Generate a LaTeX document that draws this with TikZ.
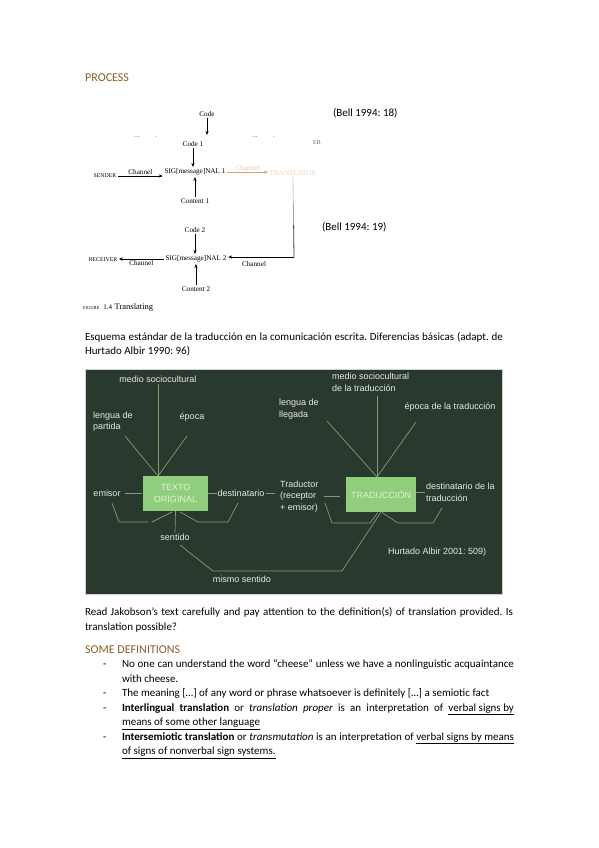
\documentclass[tikz,border=0pt]{standalone}
\usepackage{fontspec}
\setmainfont{Carlito}
\newfontfamily\arialf{Liberation Sans}
\newfontfamily\timesf{Liberation Serif}
\usetikzlibrary{arrows.meta,calc}
\definecolor{headbrown}{RGB}{140,92,42}
\definecolor{panelbg}{RGB}{42,57,46}
\definecolor{panelline}{RGB}{128,158,112}
\definecolor{boxfill}{RGB}{144,205,124}
\definecolor{boxtext}{RGB}{226,244,214}
\definecolor{paneltext}{RGB}{230,232,228}
\definecolor{fadeor}{RGB}{214,160,110}
\frenchspacing
\begin{document}
\begin{tikzpicture}[x=1pt,y=-1pt,
  body/.style={font=\fontsize{11}{14.5}\selectfont, anchor=base west, inner sep=0pt, outer sep=0pt},
  head/.style={font=\fontsize{12}{14}\selectfont, text=headbrown, anchor=base west, inner sep=0pt},
  bell/.style={font=\timesf\fontsize{7.2}{8}\selectfont, inner sep=1.5pt},
  bellsc/.style={font=\timesf\fontsize{5.8}{7}\selectfont, inner sep=1.5pt},
  barr/.style={-{Stealth[length=4pt,width=3.2pt]}, line width=0.8pt},
  ptxt/.style={font=\arialf\fontsize{9}{11.5}\selectfont, text=paneltext, inner sep=1pt, align=left},
  pline/.style={draw=panelline, line width=0.7pt},
  pbox/.style={fill=boxfill, font=\arialf\fontsize{9}{11.5}\selectfont, text=boxtext, align=center, inner sep=0pt},
]
\useasboundingbox (0,0) rectangle (599,848);
\fill[white] (0,0) rectangle (599,848);

% ---------- PROCESS ----------
\node[head] (process) at (85,82) {PROCESS};

% Bell diagram
\node[bell] (codeT) at (207,114) {Code};
\coordinate (codeTend) at (207,135);
\draw[barr] (codeT.south) -- (codeTend);
\begin{scope}
  \clip (120,128) rectangle (300,136.5);
  \node[bell,text=gray] (chA) at (145,139) {Channel};
  \node[bell,text=gray] (chB) at (263,139) {Channel};
\end{scope}
\node[bell,text=gray!80!black,font=\timesf\fontsize{6}{7}\selectfont] (er) at (317,143) {ER};

\node[bell] (code1) at (193,144) {Code 1};
\node[bell] (sig1) at (195,172) {SIG[message]NAL 1};
\node[bellsc] (sender) at (105,176) {SENDER};
\node[bell] (cont1) at (195,201) {Content 1};
\node[bell,text=fadeor!45] (transl) at (293,173) {TRANSLATOR};

\draw[barr] (code1.south) -- (code1.south |- sig1.north);
\draw[barr] (sender.east) -- (sender.east -| sig1.west)
  node[midway,above,bell,inner sep=1pt] (ch1) {Channel};
\draw[barr] (cont1.north) -- (cont1.north |- sig1.south);
\draw[-{Stealth[length=4pt,width=3.2pt]}, line width=0.8pt, draw=fadeor] (sig1.east) -- (sig1.east -| transl.west)
  node[midway,above,bell,text=fadeor!60,inner sep=1pt] (ch2) {Channel};

\coordinate (vtop) at (transl.south);
\coordinate (vbot) at (294,257);
\draw[line width=0.8pt, fadeor!60] (vtop) -- ($(vtop)!0.3!(vbot)$);
\draw[line width=0.8pt, fadeor!60!black!60] ($(vtop)!0.3!(vbot)$) -- ($(vtop)!0.6!(vbot)$);
\draw[line width=0.8pt, black!75] ($(vtop)!0.6!(vbot)$) -- (vbot);

\node[bell] (sig2) at (196,259) {SIG[message]NAL 2};
\draw[barr] (vbot) -- (vbot -| sig2.east);
\node[bell] (ch3) at (254,264) {Channel};
\node[bell] (code2) at (195,230) {Code 2};
\draw[barr] (code2.south) -- (code2.south |- sig2.north);
\node[bell] (cont2) at (196,289) {Content 2};
\draw[barr] (cont2.north) -- (cont2.north |- sig2.south);
\node[bellsc] (receiver) at (103,260) {RECEIVER};
\draw[barr] (sig2.west) -- (sig2.west -| receiver.east)
  node[midway,below,bell,inner sep=1.5pt] (ch4) {Channel};

\node[anchor=base west, inner sep=0pt, font=\timesf] (cap) at (83,309)
  {{\fontsize{4.5}{5}\selectfont FIGURE}\hspace{4pt}{\fontsize{7}{8}\selectfont 1.4}\hspace{2.5pt}{\fontsize{8.5}{10}\selectfont Translating}};

\node[body] (bell18) at (333,117) {(Bell 1994: 18)};
\node[body] (bell19) at (322,230) {(Bell 1994: 19)};

% ---------- Esquema ----------
\node[body] (esq1) at (85,340) {\makebox[418pt][s]{Esquema estándar de la traducción en la comunicación escrita. Diferencias básicas (adapt. de}};
\node[body] (esq2) at (85,354.5) {Hurtado Albir 1990: 96)};

% panel
\fill[panelbg] (85,369) rectangle (502,594);
\draw[gray!35, line width=0.6pt] (85,369) rectangle (502,594);

\node[pbox, minimum width=65pt, minimum height=35pt] (tL) at (175.5,493.5) {TEXTO\\ORIGINAL};
\node[pbox, minimum width=70pt, minimum height=35pt] (tR) at (381,494.5) {TRADUCCIÓN};

\node[ptxt] (medioL) at (158,379) {medio sociocultural};
\node[ptxt, anchor=west] (lenguaL) at (92,421.5) {lengua de\\partida};
\node[ptxt] (epocaL) at (192,417) {época};
\node[ptxt] (emisor) at (107,493) {emisor};
\node[ptxt] (destL) at (241,493) {destinatario};
\node[ptxt, anchor=west] (traductor) at (279,496.5) {Traductor\\(receptor\\+ emisor)};
\node[ptxt] (sentido) at (175,537) {sentido};
\node[ptxt] (mismo) at (242,579) {mismo sentido};
\node[ptxt, anchor=west] (medioR) at (331,382.5) {medio sociocultural\\de la traducción};
\node[ptxt, anchor=west] (lenguaR) at (278,409) {lengua de\\llegada};
\node[ptxt] (epocaR) at (450,407) {época de la traducción};
\node[ptxt, anchor=west] (destR) at (425,492.5) {destinatario de la\\traducción};
\node[ptxt, anchor=west] (hurtado) at (387,552) {Hurtado Albir 2001: 509)};

% converging lines
\coordinate (cL) at (158,476);
\coordinate (cR) at (377,477);
\coordinate (lLs) at (125,436);
\coordinate (eLs) at (187,436);
\coordinate (mRs) at (377,396);
\coordinate (lRs) at (327,421);
\coordinate (eRs) at (416,422);
\draw[pline] (medioL.south) -- (cL);
\draw[pline] (lLs) -- (cL);
\draw[pline] (eLs) -- (cL);
\draw[pline] (mRs) -- (cR);
\draw[pline] (lRs) -- (cR);
\draw[pline] (eRs) -- (cR);

% horizontal connectors
\draw[pline, shorten <=3pt, shorten >=1pt] (emisor.east) -- (emisor.east -| tL.west);
\draw[pline] (tL.east |- destL.west) -- (destL.west);
\draw[pline, shorten <=1pt, shorten >=4pt] (destL.east) -- (destL.east -| traductor.west);
\draw[pline, shorten <=4pt, shorten >=6pt] (traductor.east) -- (traductor.east -| tR.west);
\draw[pline] (tR.east |- destR.west) -- (destR.west);

% brackets
\draw[pline] (112,503) -- (119,522) -- (148,522);
\draw[pline] (152,522) -- (172,512);
\draw[pline] (tL.south) -- (sentido.north);
\draw[pline] (180,512) -- (198,522) -- (228,522) -- (238,503);
\draw[pline] (325,503) -- (332,523) -- (370,523) -- (378,512.5);
\draw[pline] (382,512.5) -- (398,523) -- (433,523) -- (442,508);
\coordinate (sS) at (180,545);
\draw[pline] (sS) -- (213,571) -- (342,571) -- (tR.south);

% ---------- Jakobson ----------
\node[body] (q1) at (85,615.5) {\makebox[428pt][s]{Read Jakobson’s text carefully and pay attention to the definition(s) of translation provided. Is}};
\node[body] (q2) at (85,630) {translation possible?};
\node[head] (defs) at (85,653) {SOME DEFINITIONS};

\node[body] (b1) at (103,667.5) {-};
\node[body] (b2) at (103,696.5) {-};
\node[body] (b3) at (103,711) {-};
\node[body] (b4) at (103,740) {-};

\node[body] (l1) at (122,667.5) {\makebox[392pt][s]{No one can understand the word ``cheese'' unless we have a nonlinguistic acquaintance}};
\node[body] (l2) at (122,682) {with cheese.};
\node[body] (l3) at (122,696.5) {The meaning […] of any word or phrase whatsoever is definitely […] a semiotic fact};
\node[body] (l4) at (122,711) {\makebox[392pt][s]{\textbf{Interlingual translation} or \textit{translation proper} is an interpretation of \underline{verbal signs by}}};
\node[body] (l5) at (122,725.5) {\underline{means of some other language}};
\node[body] (l6) at (122,740) {\makebox[392pt][s]{\textbf{Intersemiotic translation} or \textit{transmutation} is an interpretation of \underline{verbal signs by means}}};
\node[body] (l7) at (122,754.5) {\underline{of signs of nonverbal sign systems.}};
\end{tikzpicture}
\end{document}
